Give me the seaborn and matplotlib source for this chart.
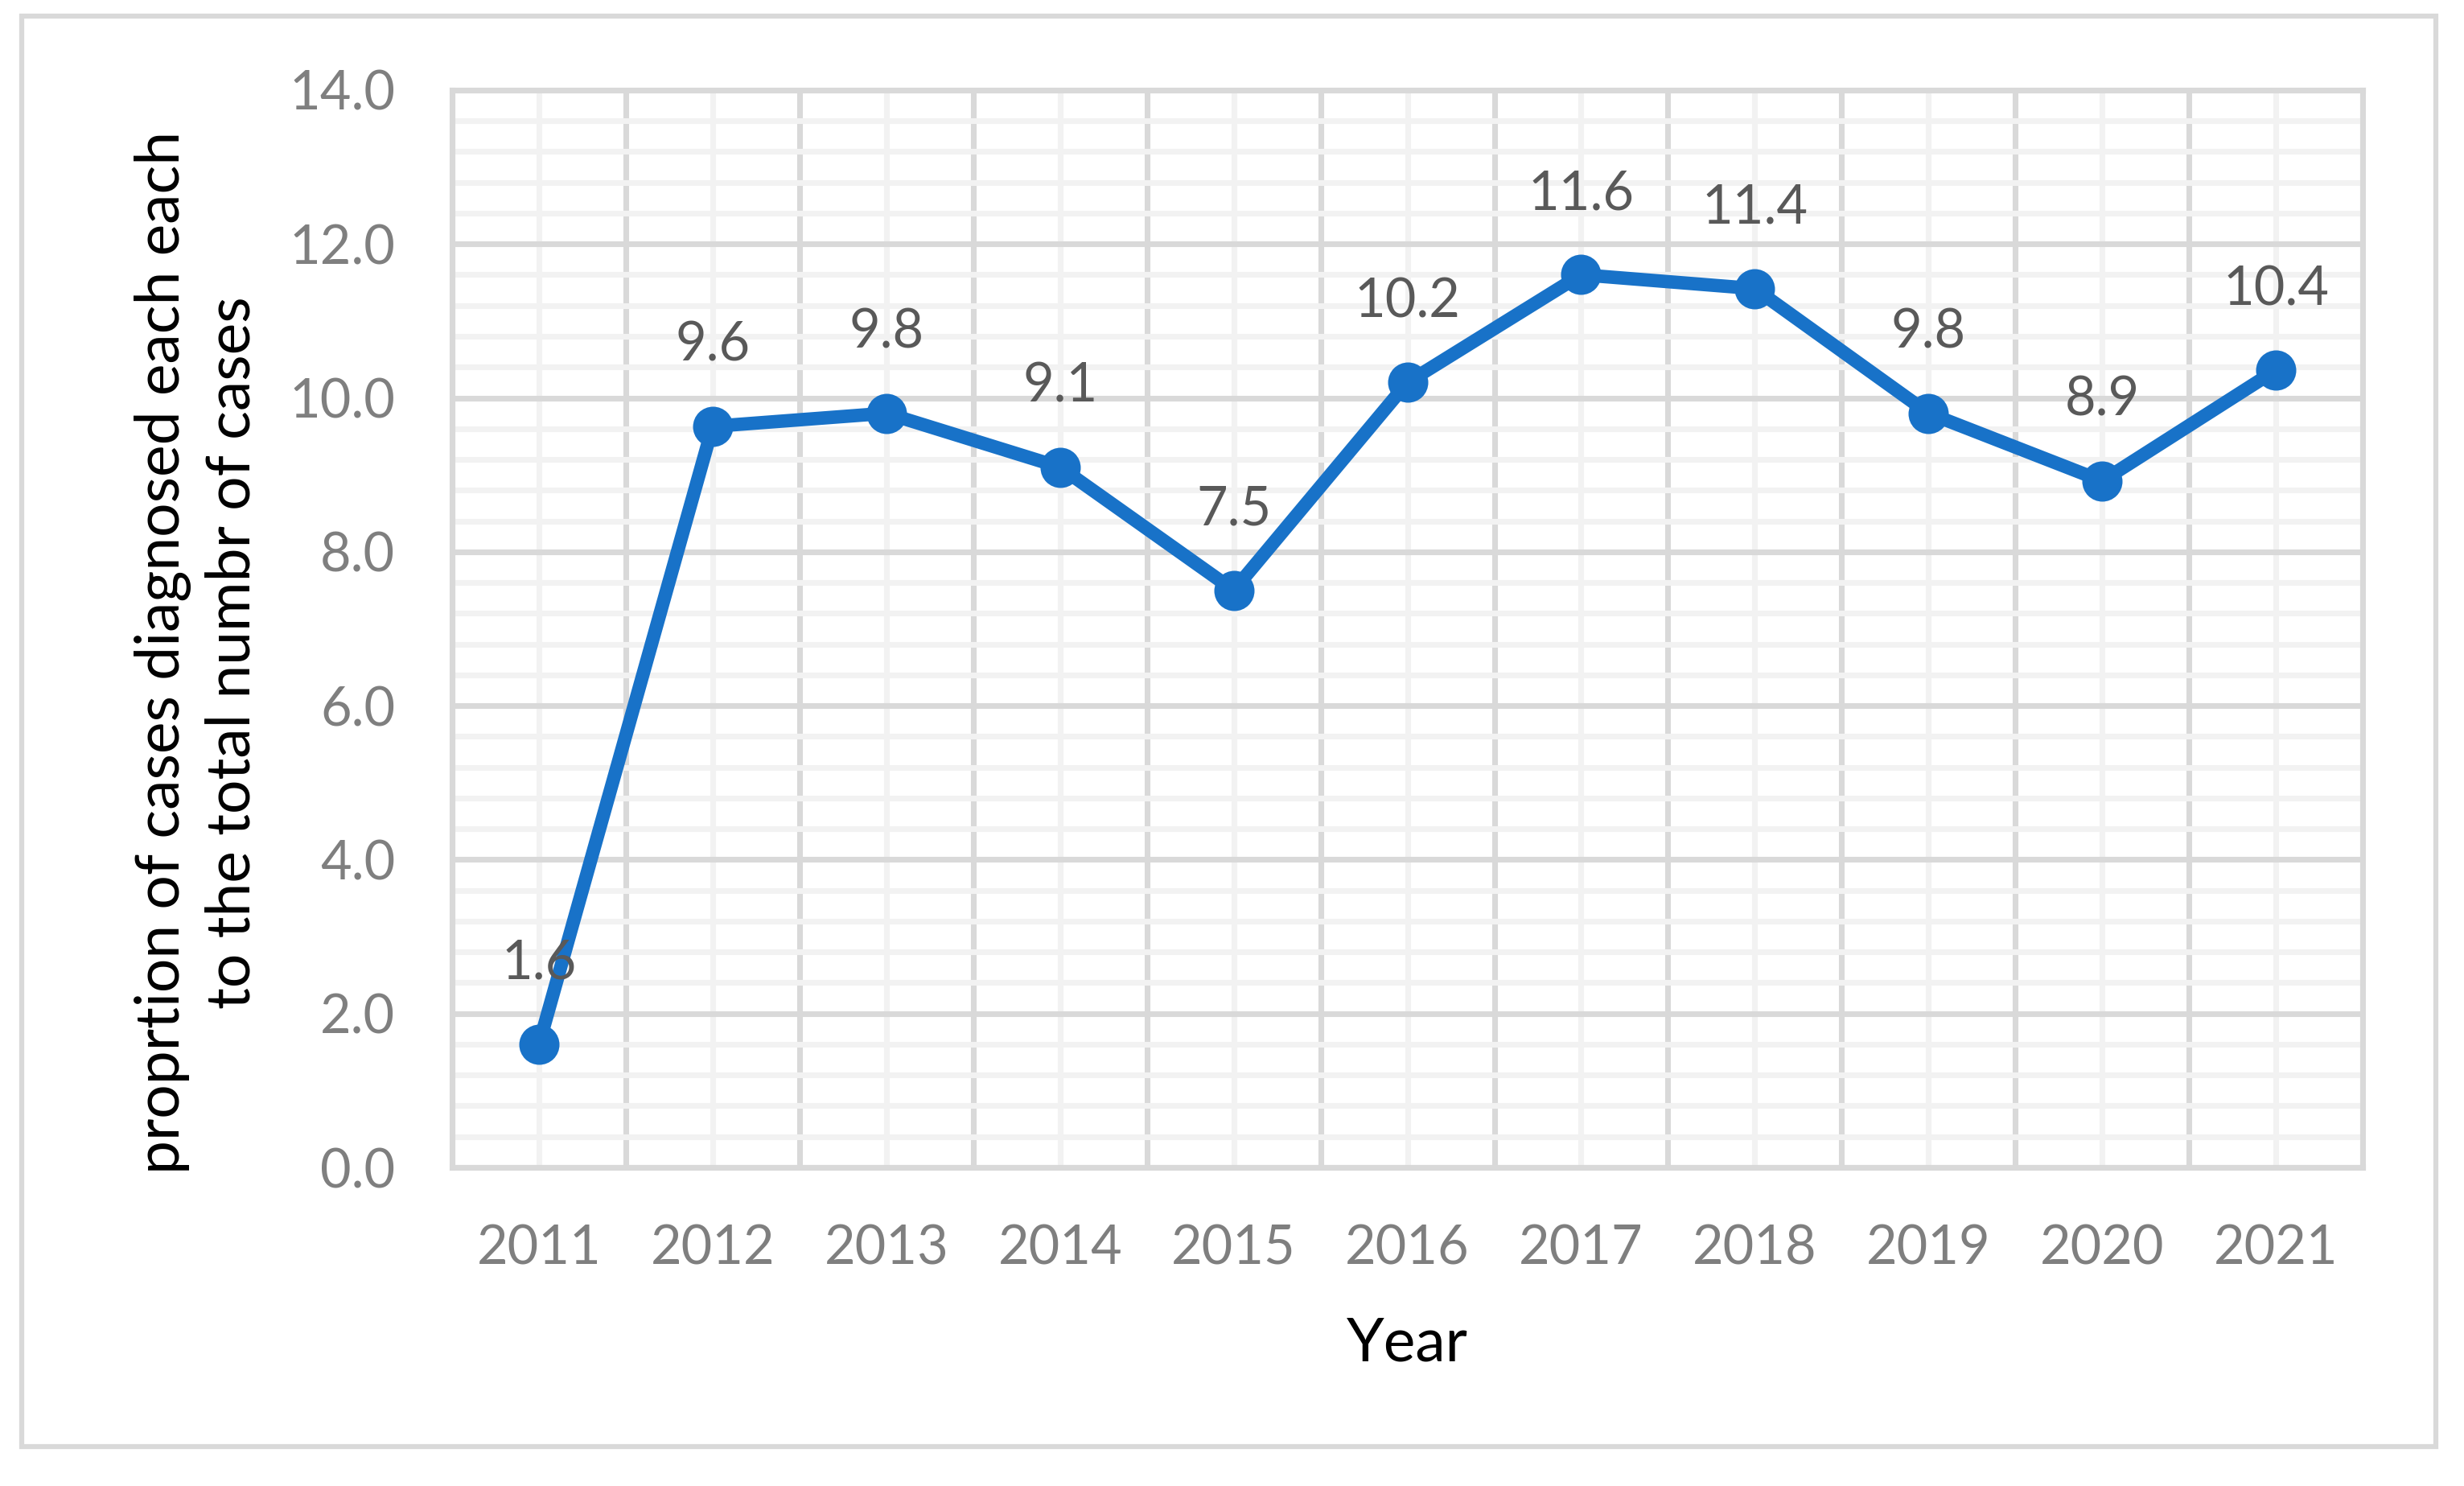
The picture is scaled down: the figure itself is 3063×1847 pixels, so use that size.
import pandas as pd
import matplotlib.pyplot as plt
import matplotlib.patches as mpatches
from matplotlib.ticker import MultipleLocator, FixedLocator, FormatStrFormatter
import seaborn as sns

# Data
years = ["2011", "2012", "2013", "2014", "2015", "2016", "2017", "2018", "2019", "2020", "2021"]
proportions = [1.6, 9.63, 9.8, 9.1, 7.5, 10.2, 11.6, 11.42, 9.8, 8.92, 10.36]

df = pd.DataFrame({"Year": years, "proportion": proportions})

sns.set_theme(style="white")
plt.rcParams["font.family"] = ["Lato", "DejaVu Sans"]

line_color = "#1872C8"
major_grid = "#D9D9D9"
minor_grid = "#F2F2F2"

fig = plt.figure(figsize=(3063 / 300, 1847 / 300), dpi=300)
ax = fig.add_axes([0.1835, 0.2144, 0.9589 - 0.1835, 0.9394 - 0.2144])

sns.lineplot(data=df, x="Year", y="proportion", ax=ax, color=line_color,
             linewidth=4, marker="o", markersize=12, markeredgewidth=0, sort=False)

# Data labels above each point
for i, v in enumerate(proportions):
    ax.annotate(f"{v:.1f}", (i, v), xytext=(0, 24), textcoords="offset points",
                ha="center", va="center", fontsize=16, color="#595959")

# Axes, grid
ax.set_ylim(0, 14)
ax.set_xlim(-0.5, len(years) - 0.5)
ax.yaxis.set_major_locator(MultipleLocator(2))
ax.yaxis.set_minor_locator(MultipleLocator(0.4))
ax.yaxis.set_major_formatter(FormatStrFormatter("%.1f"))
ax.xaxis.set_major_locator(FixedLocator(range(len(years))))
ax.xaxis.set_minor_locator(FixedLocator([i - 0.5 for i in range(len(years) + 1)]))
ax.set_xticklabels(years)

ax.set_axisbelow(True)
ax.grid(which="major", axis="y", color=major_grid, linewidth=1.7, linestyle="-")
ax.grid(which="minor", axis="y", color=minor_grid, linewidth=1.7, linestyle="-")
ax.grid(which="major", axis="x", color=minor_grid, linewidth=1.7, linestyle="-")
ax.grid(which="minor", axis="x", color=major_grid, linewidth=1.7, linestyle="-")

for s in ax.spines.values():
    s.set_color(major_grid)
    s.set_linewidth(1.7)

ax.tick_params(which="both", length=0)
ax.tick_params(axis="both", labelsize=16, labelcolor="#7F7F7F", pad=17)

ax.set_xlabel("Year", fontsize=18, color="black", va="center")
ax.xaxis.set_label_coords(0.5, -0.1636)
ax.set_ylabel("proprtion of cases diagnosed each each\nto the total numbr of cases",
              fontsize=18, color="black", va="center", linespacing=1.3)
ax.yaxis.set_label_coords(-0.1335, 0.478)

# Chart area border
fig.patches.append(mpatches.Rectangle((27 / 3063, 1 - 1798 / 1847), (3028 - 27) / 3063,
                                      (1798 - 20) / 1847, transform=fig.transFigure,
                                      fill=False, edgecolor=major_grid, linewidth=1.5))

fig.savefig("out.png", dpi=300, facecolor="white")
